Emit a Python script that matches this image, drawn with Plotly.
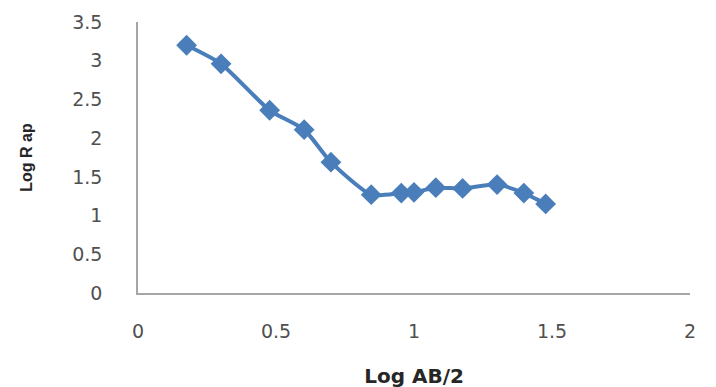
import plotly.graph_objects as go

# Data
log_ab2 = [0.176, 0.301, 0.477, 0.602, 0.699, 0.845, 0.954, 1.0, 1.079, 1.176, 1.301, 1.398, 1.477]
log_rap = [3.20, 2.96, 2.36, 2.11, 1.69, 1.27, 1.29, 1.30, 1.36, 1.35, 1.40, 1.29, 1.15]

x_tickvals = [0, 0.5, 1, 1.5, 2]
x_ticktext = ["0", "0.5", "1", "1.5", "2"]
y_tickvals = [0, 0.5, 1, 1.5, 2, 2.5, 3, 3.5]
y_ticktext = ["0", "0.5", "1", "1.5", "2", "2.5", "3", "3.5"]

blue = "#4A7EBB"
tick_font = dict(family="DejaVu Sans", size=19, color="#505050")

fig = go.Figure()
fig.add_trace(go.Scatter(
    x=log_ab2, y=log_rap,
    mode="lines+markers",
    line=dict(color=blue, width=4, shape="spline", smoothing=0.6),
    marker=dict(symbol="diamond", size=16, color=blue),
    showlegend=False,
))

fig.update_layout(
    width=716, height=387,
    margin=dict(l=130, r=34, t=14, b=102, autoexpand=False),
    paper_bgcolor="white", plot_bgcolor="white",
    xaxis=dict(
        range=[0, 2], tickvals=x_tickvals, ticktext=x_ticktext,
        showgrid=False, zeroline=False, showline=True, automargin=False,
        linecolor="#A6A6A6", linewidth=1.5, ticks="",
        tickfont=tick_font, ticklabelstandoff=20,
        title=dict(text="<b>Log AB/2</b>", standoff=28,
                   font=dict(family="DejaVu Sans", size=20, color="#262626")),
    ),
    yaxis=dict(
        range=[0, 3.5], tickvals=y_tickvals, ticktext=y_ticktext,
        showgrid=False, zeroline=False, showline=True, automargin=False,
        linecolor="#A6A6A6", linewidth=1.5, ticks="",
        tickfont=tick_font, ticklabelstandoff=30,
        title=dict(text="<b>Log R ap</b>", standoff=36,
                   font=dict(family="Liberation Sans", size=16, color="#262626")),
    ),
)

fig.write_html("out.html")
